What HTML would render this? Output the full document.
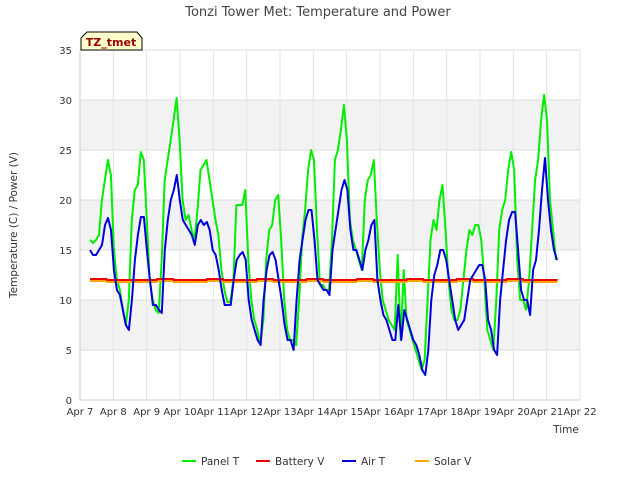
<!DOCTYPE html>
<html><head><meta charset="utf-8"><style>
body{margin:0;background:#fff;font-family:"DejaVu Sans","Liberation Sans",sans-serif;}
svg text{font-family:"DejaVu Sans","Liberation Sans",sans-serif;}
</style></head><body>
<svg id="c" width="640" height="480" xmlns="http://www.w3.org/2000/svg">
<text x="318" y="16" text-anchor="middle" font-size="13" fill="#444">Tonzi Tower Met: Temperature and Power</text>
<g id="bands"></g><g id="grid"></g><g id="series"></g><g id="axes"></g>
<g>
<path d="M81,50 L81,38 L87,32 L137,32 L142,38 L142,50 Z" fill="#ffffcc" stroke="#000" stroke-width="1"/>
<text x="111" y="46" text-anchor="middle" font-size="11" font-weight="bold" fill="#990000">TZ_tmet</text>
</g>
<text transform="translate(17,225) rotate(-90)" text-anchor="middle" font-size="10.5" fill="#333">Temperature (C) / Power (V)</text>
<text x="566" y="433" text-anchor="middle" font-size="10.5" fill="#333">Time</text>
<g id="legend"></g>
</svg>
<script>
const yTicks=[0,5,10,15,20,25,30,35];
const xTickLabels=["Apr 7","Apr 8","Apr 9","Apr 10","Apr 11","Apr 12","Apr 13","Apr 14","Apr 15","Apr 16","Apr 17","Apr 18","Apr 19","Apr 20","Apr 21","Apr 22"];
const panelStart=0.3, panelEnd=14.28;
const panelT=[16,15.7,16,16.5,20,22,24,22.5,15,12,11,9,7.5,10,18,21,21.5,24.8,24,18,12,10,9,8.7,14,22,24,26,28,30.2,26,20,18,18.5,17,16,19,23,23.5,24,22,20,18,16.5,13,11,9.8,9.8,12,19.5,19.5,19.5,21,14,10,8,7,5.5,8,14,17,17.5,20,20.5,16,10,7,6,6,5.5,10,16,19,23,25,24,17,11.5,11.5,11,11,16,24,25,27,29.5,26,18,16,15,14,13,20,22,22.5,24,18,13,10,9,8,7.5,7,14.5,6,13,8,7,6,5,4,3,4,10,16,18,17,20,21.5,17,12,9,8,8,9,12,15,17,16.5,17.5,17.5,16,12,7,6,5,10,17,19,20,23,24.8,23,14,10,10,9,12,17,22,24,28,30.5,28,20,17,14];
const airStart=0.3, airEnd=14.31;
const airT=[15,14.5,14.5,15,15.5,17.5,18.2,17,13,11,10.5,9,7.5,7,10,14,16.5,18.3,18.3,15,12,9.5,9.5,9,8.7,15,18,20,21,22.5,20,18,17.5,17,16.5,15.5,17.5,18,17.5,17.8,17,15,14.5,13,11,9.5,9.5,9.5,12,14,14.5,14.8,14,10,8,7,6,5.5,10,13,14.5,14.8,14,12,10,7.5,6,6,5,10,14,16,18,19,19,16,12,11.5,11,11,10.5,15,17,19,21,22,21,17,15,15,14,13,15,16,17.5,18,12,10,8.5,8,7,6,6,9.5,6,9,8,7,6,5.5,4.5,3,2.5,5,10,12.5,13.5,15,15,14,12,10,8,7,7.5,8,10,12,12.5,13,13.5,13.5,12,8,7,5,4.5,10,13,16,18,18.8,18.8,15,11,10,10,8.5,13,14,17,21,24.2,20,17,15,14];
const battStart=0.3, battEnd=14.3;
const batteryV=[12.1,12.0,12.0,12.0,12.1,12.0,12.0,12.1,12.0,12.0,12.1,12.0,12.0,12.1,12.0,12.0,12.1,12.0,12.0,12.1,12.0,12.0,12.1,12.0,12.0,12.1,12.0,12.0,12.1];
const solarV=[11.9,11.8,11.8,11.8,11.9,11.8,11.8,11.9,11.8,11.8,11.9,11.8,11.8,11.9,11.8,11.8,11.9,11.8,11.8,11.9,11.8,11.8,11.9,11.8,11.8,11.9,11.8,11.8,11.9];

const NS="http://www.w3.org/2000/svg";
const L=80,R=580,T=50,B=400;
const xs=d=>L+(d/15)*(R-L);
const ys=v=>B-(v/35)*(B-T);
function mk(tag,attrs,parent){const e=document.createElementNS(NS,tag);for(const k in attrs)e.setAttribute(k,attrs[k]);parent.appendChild(e);return e;}
const bands=document.getElementById('bands'),grid=document.getElementById('grid'),axes=document.getElementById('axes'),ser=document.getElementById('series'),leg=document.getElementById('legend');
mk('rect',{x:L,y:T,width:R-L,height:B-T,fill:'#fff'},bands);
for(let i=0;i<yTicks.length-1;i++){
  if(i%2===1){const r=mk('rect',{x:L,y:ys(yTicks[i+1]),width:R-L,height:ys(yTicks[i])-ys(yTicks[i+1]),fill:'#f2f2f2'},bands);
  
  }
}
yTicks.forEach(v=>{
  const l=mk('line',{x1:L,x2:R,y1:ys(v),y2:ys(v),stroke:'#dddddd','stroke-width':1},grid);
  
  
  const t=mk('text',{x:L-8,y:ys(v)+4,'text-anchor':'end','font-size':10,fill:'#333'},axes);t.textContent=v;
  
  
});
xTickLabels.forEach((s,i)=>{
  const l=mk('line',{x1:xs(i),x2:xs(i),y1:T,y2:B,stroke:'#e4e4e4','stroke-width':1},grid);
  
  
  const t=mk('text',{x:xs(i),y:B+15,'text-anchor':'middle','font-size':10,fill:'#333'},axes);t.textContent=s;
  
  
});
const ax=mk('path',{d:`M${L},${T} L${L},${B} L${R},${B}`,fill:'none',stroke:'#ccc','stroke-width':1},axes);


function line(vals,t0,t1,color,name,step){
  const n=vals.length;let d='';
  vals.forEach((v,i)=>{const t=t0+(t1-t0)*i/(n-1);
    if(step&&i>0){d+=` L${xs(t).toFixed(1)},${ys(vals[i-1]).toFixed(1)}`;}
    d+=(i?' L':'M')+xs(t).toFixed(1)+','+ys(v).toFixed(1);});
  const p=mk('path',{d:d,fill:'none',stroke:color,'stroke-width':2,'stroke-linejoin':'round'},ser);
  
  
}
line(panelT,panelStart,panelEnd,'#00ee00','panel-t-line');
line(solarV,battStart,battEnd,'#ffa500','solar-v-line',true);
line(batteryV,battStart,battEnd,'#ee0000','battery-v-line',true);
line(airT,airStart,airEnd,'#0000dd','air-t-line');
const legItems=[["Panel T","#00ee00",182],["Battery V","#ee0000",256],["Air T","#0000dd",342],["Solar V","#ffa500",415]];
legItems.forEach(([lab,c,x])=>{
  const g=mk('g',{},leg);
  
  
  mk('line',{x1:x,x2:x+14,y1:461,y2:461,stroke:c,'stroke-width':2},g);
  const t=mk('text',{x:x+19,y:465,'font-size':10.5,fill:'#333'},g);t.textContent=lab;
});
</script>
</body></html>
